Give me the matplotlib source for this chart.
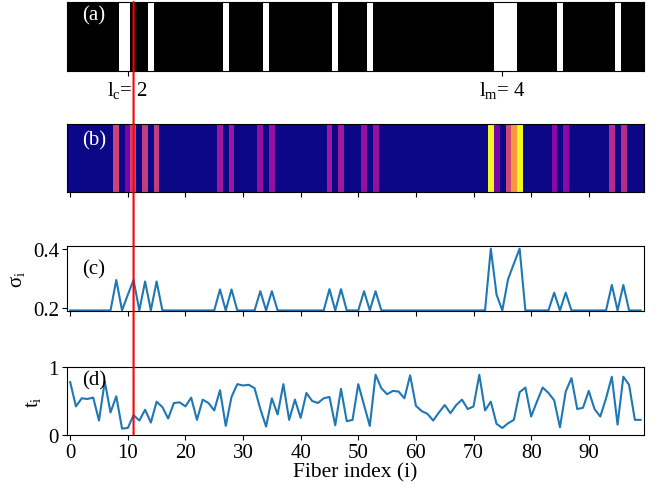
import numpy as np
import matplotlib
matplotlib.use('Agg')
import matplotlib.pyplot as plt
from matplotlib.patches import ConnectionPatch

plt.rcParams['font.family'] = ['Liberation Serif', 'DejaVu Serif']
plt.rcParams['mathtext.fontset'] = 'stix'
plt.rcParams['mathtext.default'] = 'regular'
plt.rcParams['font.size'] = 15
plt.rcParams['xtick.major.pad'] = 2.5
plt.rcParams['ytick.major.pad'] = 2.5

# data
n_fibers = 100
fiber_index = np.arange(n_fibers)

# (a) broken fibers (white cells)
broken = [9, 10, 14, 27, 34, 46, 52, 74, 75, 76, 77, 85, 95]

# (b)/(c) sigma_i: baseline plus raised values
sigma_base = 0.192
sigma_idx = [8, 10, 11, 13, 15, 26, 28, 33, 35, 45, 47, 51, 53,
             73, 74, 76, 77, 78, 84, 86, 94, 96]
sigma_val = [0.295, 0.245, 0.295, 0.290, 0.290, 0.263, 0.263, 0.257, 0.257,
             0.264, 0.264, 0.257, 0.257, 0.401, 0.245, 0.298, 0.350, 0.401,
             0.252, 0.252, 0.278, 0.278]

# (d) t_i
t_vals = [0.78, 0.42, 0.54, 0.53, 0.55, 0.21, 0.79, 0.33, 0.57, 0.09,
          0.10, 0.29, 0.21, 0.37, 0.18, 0.49, 0.41, 0.24, 0.47, 0.48,
          0.42, 0.55, 0.22, 0.52, 0.47, 0.36, 0.66, 0.13, 0.56, 0.75,
          0.73, 0.74, 0.69, 0.38, 0.12, 0.54, 0.30, 0.75, 0.22, 0.52,
          0.25, 0.62, 0.50, 0.47, 0.54, 0.56, 0.14, 0.68, 0.20, 0.22,
          0.75, 0.44, 0.13, 0.89, 0.69, 0.60, 0.65, 0.64, 0.54, 0.88,
          0.43, 0.35, 0.31, 0.21, 0.33, 0.44, 0.32, 0.44, 0.52, 0.38,
          0.42, 0.89, 0.36, 0.49, 0.16, 0.10, 0.17, 0.22, 0.63, 0.70,
          0.27, 0.49, 0.70, 0.62, 0.51, 0.11, 0.64, 0.84, 0.38, 0.40,
          0.65, 0.38, 0.27, 0.54, 0.86, 0.15, 0.86, 0.74, 0.22, 0.22]

lc_pos, lm_pos = 10, 75
red_x = 11

state = np.zeros(n_fibers)
state[broken] = 1
sigma = np.full(n_fibers, sigma_base)
sigma[sigma_idx] = sigma_val

W, H = 662, 489
fig = plt.figure(figsize=(W / 100, H / 100), dpi=100)


def box(top, bottom, left=67.3, right=643.5):
    return [left / W, (H - bottom) / H, (right - left) / W, (bottom - top) / H]


ax_a = fig.add_axes(box(3, 71.7))
ax_b = fig.add_axes(box(125, 193.3))
ax_c = fig.add_axes(box(247.3, 312.3))
ax_d = fig.add_axes(box(368.3, 435.7))

ax_a.imshow(state[np.newaxis, :], cmap='gray', aspect='auto', interpolation='nearest')
ax_a.set_yticks([])
ax_a.set_xticks([lc_pos, lm_pos])
ax_a.set_xticklabels([r'$l_c$= 2', r'$l_m$= 4'])
ax_a.text(0.026, 0.81, '(a)', transform=ax_a.transAxes, color='white',
          fontsize=15, va='center', ha='left')

ax_b.imshow(sigma[np.newaxis, :], cmap='plasma', aspect='auto', interpolation='nearest')
ax_b.set_yticks([])
ax_b.set_xticks(np.arange(0, 100, 10))
ax_b.set_xticklabels([])
ax_b.text(0.026, 0.77, '(b)', transform=ax_b.transAxes, color='white',
          fontsize=15, va='center', ha='left')

ax_c.plot(fiber_index, sigma, color='#1f77b4', lw=1.5)
ax_c.set_xlim(-0.5, 99.5)
ax_c.set_ylim(0.189, 0.409)
ax_c.set_yticks([0.2, 0.4])
ax_c.set_yticklabels(['0.2', '0.4'])
ax_c.set_xticks(np.arange(0, 100, 10))
ax_c.set_xticklabels([])
ax_c.set_ylabel(r'$\sigma_i$', fontsize=15, labelpad=4)
ax_c.text(0.026, 0.66, '(c)', transform=ax_c.transAxes, color='black',
          fontsize=15, va='center', ha='left')

ax_d.plot(fiber_index, t_vals, color='#1f77b4', lw=1.5)
ax_d.set_xlim(-0.5, 99.5)
ax_d.set_ylim(0, 1)
ax_d.set_yticks([0, 1])
ax_d.set_xticks(np.arange(0, 100, 10))
ax_d.set_ylabel(r'$t_i$', fontsize=15, labelpad=4)
ax_d.set_xlabel('Fiber index (i)', fontsize=15.5, labelpad=0)
ax_d.text(0.026, 0.81, '(d)', transform=ax_d.transAxes, color='black',
          fontsize=15, va='center', ha='left')

line = ConnectionPatch(xyA=(red_x, 1), coordsA=ax_a.get_xaxis_transform(),
                       xyB=(red_x, 0), coordsB=ax_d.get_xaxis_transform(),
                       color='red', lw=1.5, zorder=10)
fig.add_artist(line)

fig.savefig('out.png', dpi=100)
